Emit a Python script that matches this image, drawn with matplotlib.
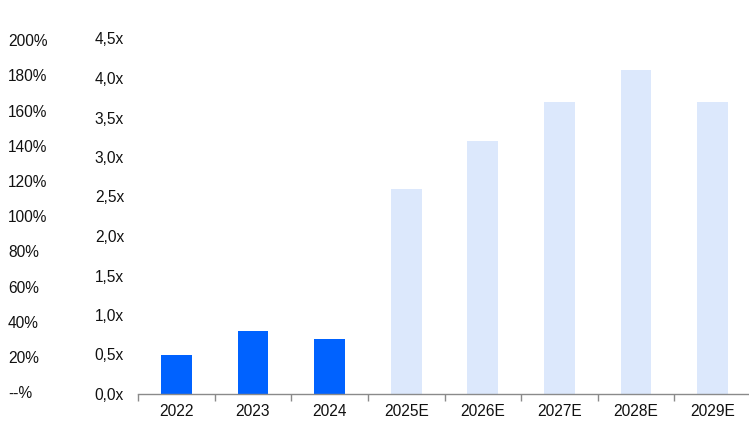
import matplotlib
matplotlib.use("Agg")
import matplotlib.pyplot as plt
from matplotlib.ticker import FixedLocator

plt.rcParams['font.family'] = ['Liberation Sans', 'DejaVu Sans']

categories = ["2022", "2023", "2024", "2025E", "2026E", "2027E", "2028E", "2029E"]
values = [0.5, 0.8, 0.7, 2.6, 3.2, 3.7, 4.1, 3.7]
is_estimate = [False, False, False, True, True, True, True, True]
mult_ticks = [0.0, 0.5, 1.0, 1.5, 2.0, 2.5, 3.0, 3.5, 4.0, 4.5]
mult_labels = ["0,0x", "0,5x", "1,0x", "1,5x", "2,0x", "2,5x", "3,0x", "3,5x", "4,0x", "4,5x"]
pct_ticks = [0, 20, 40, 60, 80, 100, 120, 140, 160, 180, 200]
pct_labels = ["--%", "20%", "40%", "60%", "80%", "100%", "120%", "140%", "160%", "180%", "200%"]

dark = "#0062FF"
light = "#DCE8FC"
axis_grey = "#8a8a8a"
fs = 11.2

W, H = 749, 421
fig = plt.figure(figsize=(W / 100, H / 100), dpi=100)
left, right, bottom, top = 138, 751, 394, 38.5
ax = fig.add_axes([left / W, (H - bottom) / H, (right - left) / W, (bottom - top) / H])

x = list(range(len(categories)))
colors = [light if e else dark for e in is_estimate]
ax.bar(x, values, width=0.4, color=colors, zorder=2)

ax.set_xlim(-0.5, len(categories) - 0.5)
ax.set_ylim(0, 4.5)

for s in ["top", "right", "left"]:
    ax.spines[s].set_visible(False)
ax.spines["bottom"].set_color(axis_grey)
ax.spines["bottom"].set_linewidth(1.0)

ax.set_xticks(x)
ax.set_xticklabels(categories, fontsize=fs, color="#111111")
ax.tick_params(axis="x", which="major", length=0, pad=7)
ax.xaxis.set_minor_locator(FixedLocator([i - 0.5 for i in range(len(categories))]))
ax.tick_params(axis="x", which="minor", length=5, color=axis_grey, width=1.0)

ax.set_yticks(mult_ticks)
ax.set_yticklabels(mult_labels, fontsize=fs, color="#111111")
ax.tick_params(axis="y", length=0, pad=10)

# percent axis on the far left
ax2 = ax.twinx()
ax2.set_ylim(-1.0, 201)
for s in ax2.spines.values():
    s.set_visible(False)
ax2.yaxis.set_ticks_position("left")
ax2.yaxis.set_label_position("left")
ax2.set_yticks(pct_ticks)
ax2.set_yticklabels(pct_labels, fontsize=fs, color="#111111")
ax2.tick_params(axis="y", length=0, pad=130 * 0.72)
for lbl in ax2.get_yticklabels():
    lbl.set_horizontalalignment("left")

fig.savefig("out.png", dpi=100)
